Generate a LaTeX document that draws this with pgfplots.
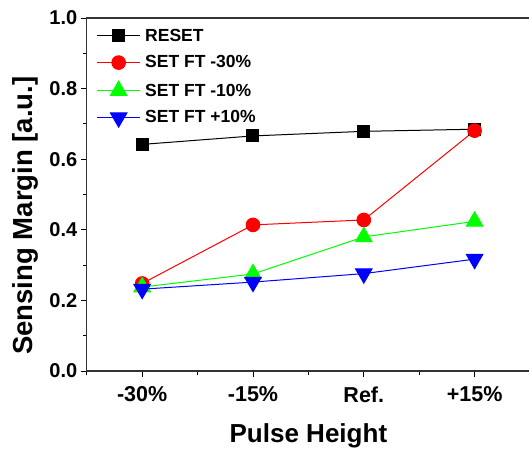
\documentclass[border=0pt]{standalone}
\usepackage{fontspec}
\setmainfont{Liberation Sans}
\usepackage{pgfplots}
\pgfplotsset{compat=1.18}

\begin{document}
\begin{tikzpicture}
\begin{axis}[
  scale only axis, width=442.8pt, height=352.7pt,
  xmin=-0.5, xmax=3.5, ymin=0, ymax=1.0,
  xtick={0,1,2,3}, xticklabels={-30\%,-15\%,Ref.,+15\%},
  minor xtick={-0.5,0.5,1.5,2.5},
  ytick={0,0.2,0.4,0.6,0.8,1.0}, minor y tick num=1,
  xtick pos=bottom, ytick pos=left,
  tick align=outside,
  major tick length=6pt, minor tick length=4pt,
  every tick/.style={black, line width=0.9pt},
  axis line style={line width=1.2pt, black!80},
  /pgf/number format/assume math mode=true,
  yticklabel style={font=\bfseries\fontsize{20}{20}\selectfont,
    /pgf/number format/.cd, fixed, fixed zerofill, precision=1},
  xticklabel style={font=\bfseries\fontsize{21.5}{22}\selectfont, yshift=-6pt},
  xlabel={Pulse Height}, ylabel={Sensing Margin [a.u.]},
  xlabel style={font=\bfseries\fontsize{26}{27}\selectfont, yshift=-14pt},
  ylabel style={font=\bfseries\fontsize{27.5}{28}\selectfont, at={(ticklabel cs:0.44)}, yshift=4pt},
  legend style={at={(0.015,0.98)}, anchor=north west, draw=none, fill=none,
    font=\bfseries\fontsize{17.5}{18}\selectfont, row sep=10.2pt,
    nodes={inner sep=1.5pt}},
  legend cell align=left,
  legend image code/.code={\draw[mark repeat=2,mark phase=2,#1] plot coordinates {(0pt,0pt) (21.5pt,0pt) (43pt,0pt)};},
]
\coordinate (sw) at (rel axis cs:0,0);
\coordinate (ne) at (rel axis cs:1,1);
\addplot[black, line width=1pt, mark=square*, mark size=6pt, mark options={solid, fill=black}]
  coordinates {(0,0.642) (1,0.666) (2,0.679) (3,0.685)};
\addlegendentry{\hspace{3pt}RESET}
\addplot[red, line width=1pt, mark=*, mark size=6.8pt, mark options={solid, fill=red}]
  coordinates {(0,0.248) (1,0.414) (2,0.428) (3,0.681)};
\addlegendentry{\hspace{3pt}SET FT -30\%}
\addplot[green, line width=1pt, mark=triangle*, mark size=9.5pt, mark options={solid, fill=green}]
  coordinates {(0,0.238) (1,0.275) (2,0.380) (3,0.424)};
\addlegendentry{\hspace{3pt}SET FT -10\%}
\addplot[blue, line width=1pt, mark=triangle*, mark size=9.5pt, mark options={solid, fill=blue, rotate=180}]
  coordinates {(0,0.232) (1,0.252) (2,0.276) (3,0.317)};
\addlegendentry{\hspace{3pt}SET FT +10\%}
\end{axis}
\pgfresetboundingbox
\path[use as bounding box] ([shift={(-86.7pt,-80.3pt)}]sw) rectangle ([shift={(-1pt,18pt)}]ne);
\end{tikzpicture}
\end{document}
